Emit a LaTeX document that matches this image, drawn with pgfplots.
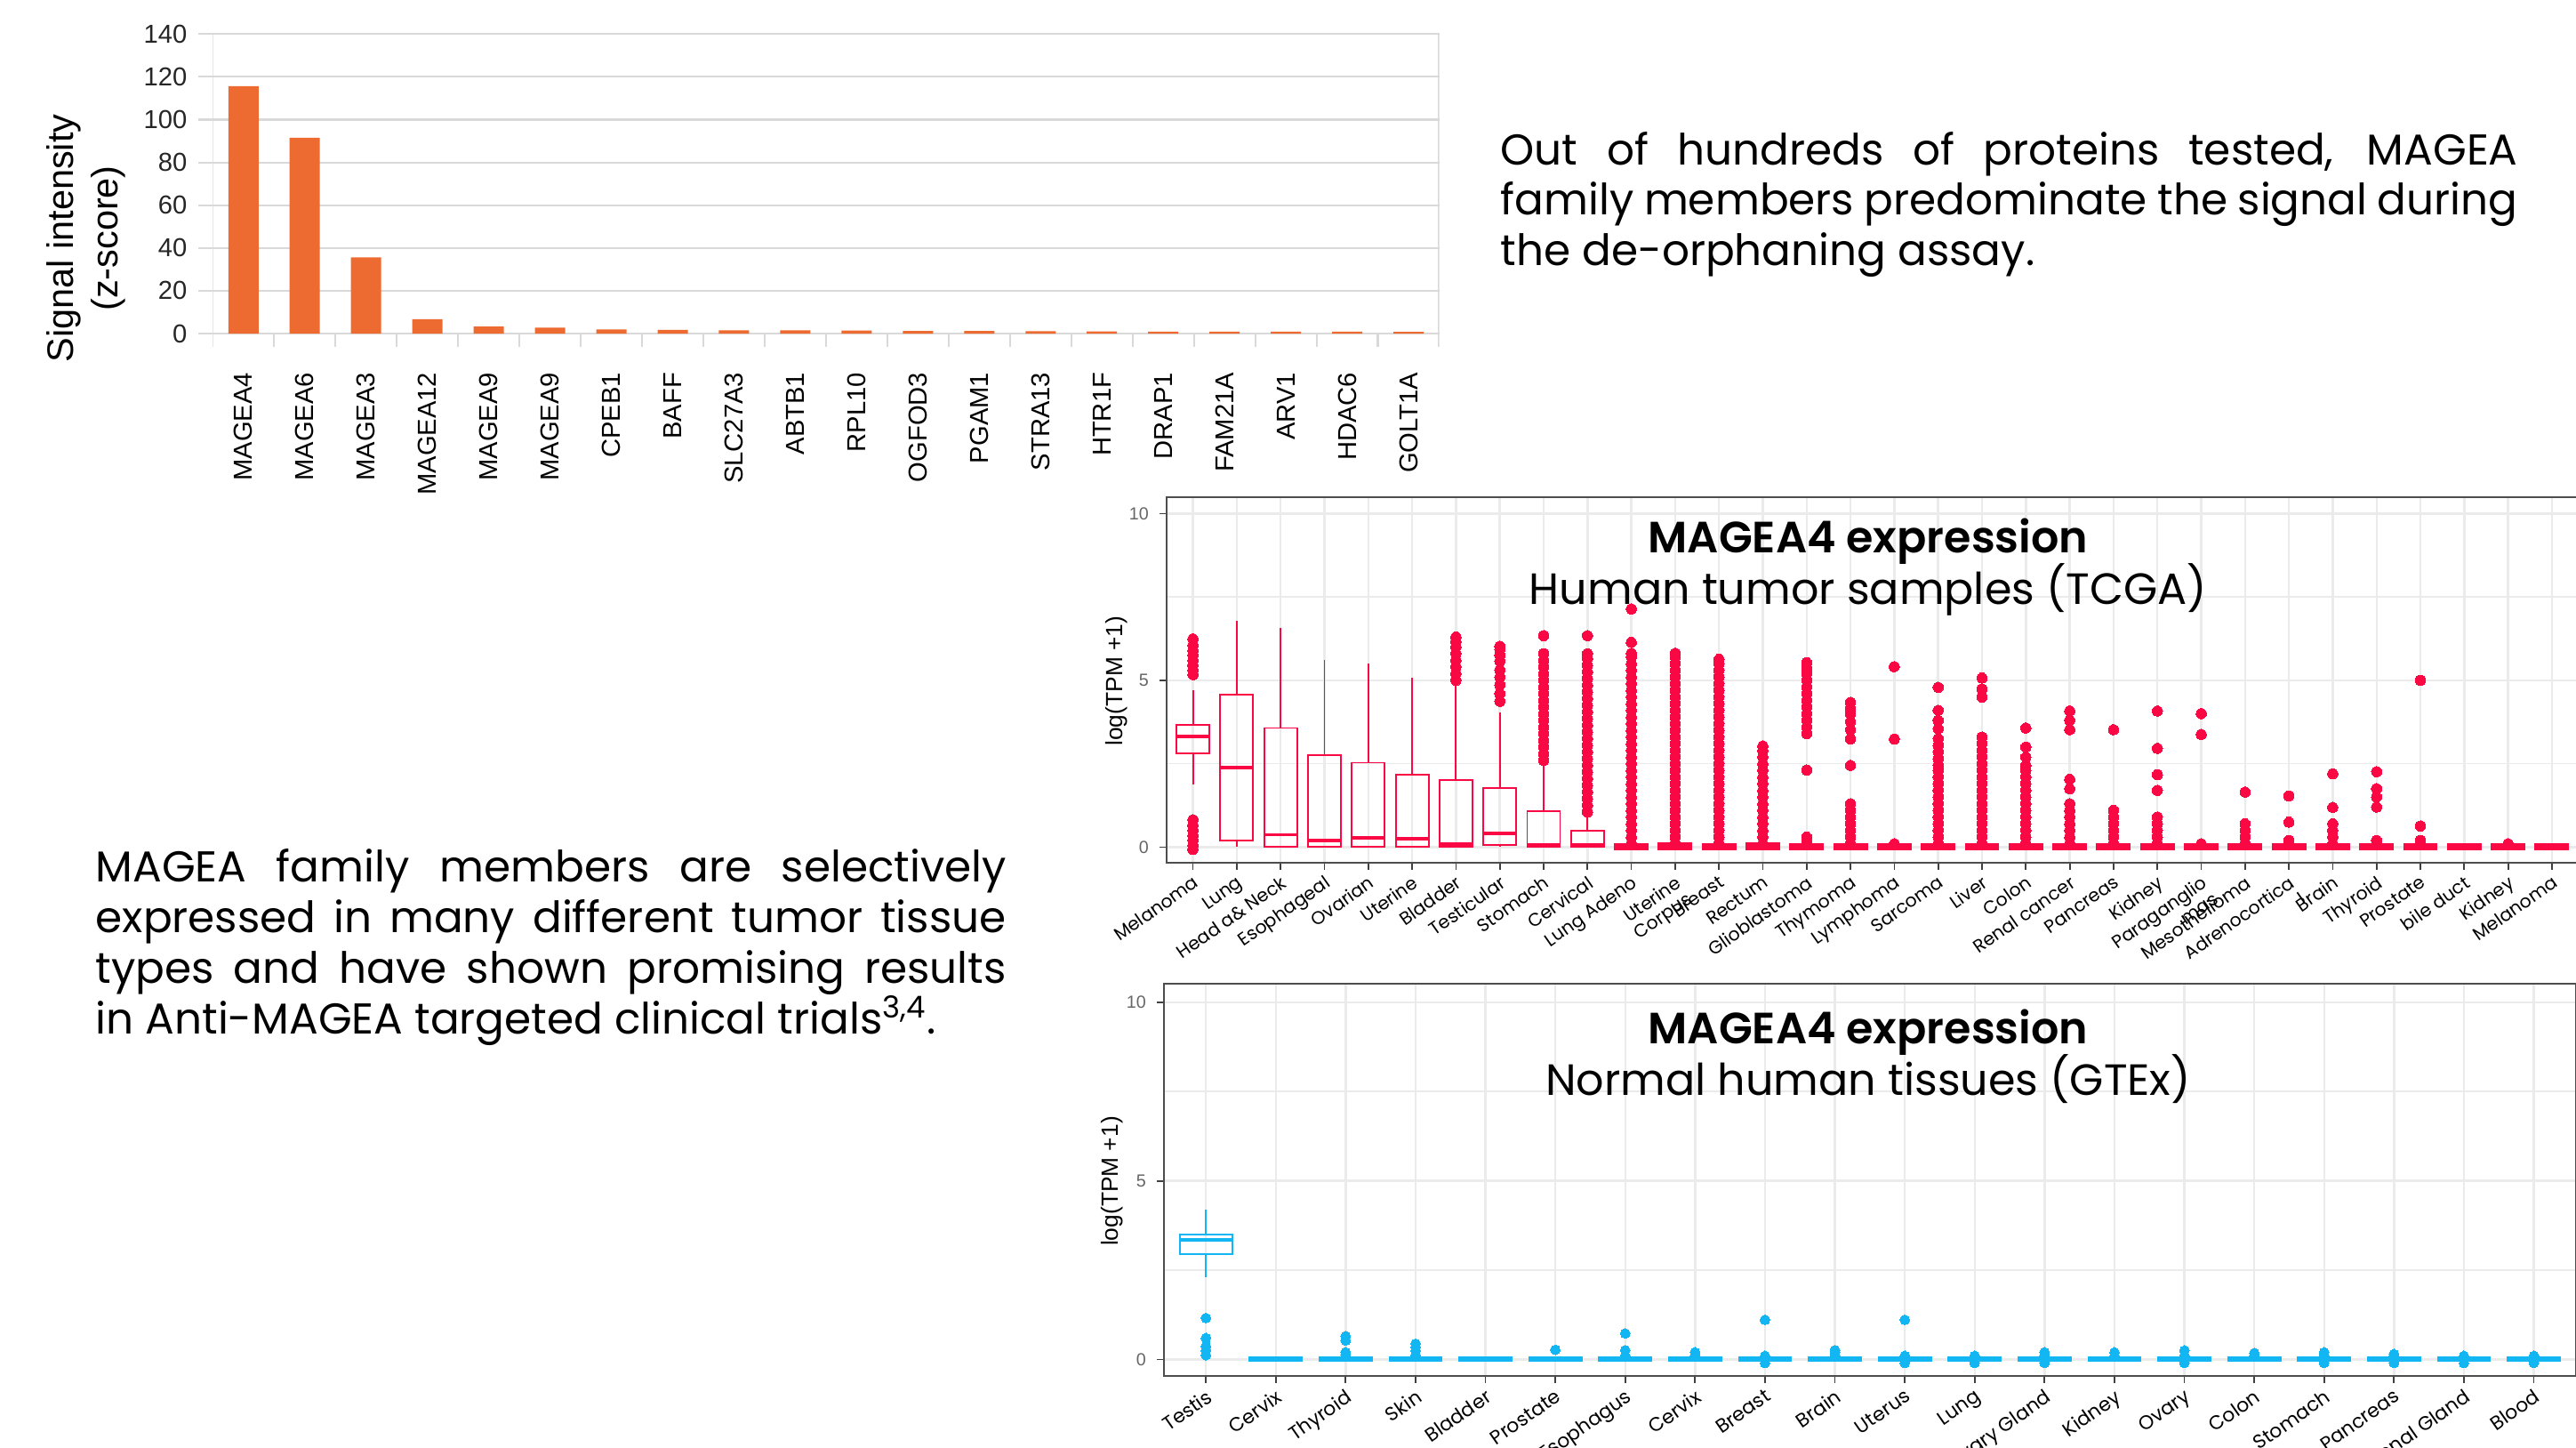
\documentclass[border=0pt]{standalone}
\usepackage{fontspec}
\usepackage{pgfplots}
\pgfplotsset{compat=1.18}
\usepgfplotslibrary{statistics}
\setmainfont{Poppins}
\newfontfamily\popmed{Poppins SemiBold}
\newfontfamily\arial{Liberation Sans}
\definecolor{barorange}{HTML}{ED6A30}
\definecolor{tcgared}{HTML}{FA0843}
\definecolor{gtexblue}{HTML}{12B6F2}
\definecolor{gridc}{HTML}{D9D9D9}
\definecolor{ggrid}{HTML}{EBEBEB}
\definecolor{gborder}{HTML}{4D4D4D}
\pgfplotsset{
  boxplot/draw direction=y,
  boxplot/box extend=0.75,
  boxplot/whisker extend=0,
  boxplot/every median/.style={line width=1.1pt},
  tb/.style={boxplot prepared={#1}, draw=tcgared, line width=0.55pt, mark=*, mark size=1.65pt, mark options={fill=tcgared, draw=tcgared, line width=0pt, solid}},
  tbf/.style={tb={#1}, fill=tcgared},
  gb/.style={boxplot prepared={#1}, draw=gtexblue, line width=0.55pt, mark=*, mark size=1.55pt, mark options={fill=gtexblue, draw=gtexblue, line width=0pt, solid}},
  gbf/.style={gb={#1}, fill=gtexblue},
  panel/.style={
    scale only axis, anchor=north west,
    xmin=0.4, ymin=-0.47,
    axis line style={gborder, line width=0.6pt},
    tick pos=left, tick align=outside,
    major tick length=2.2pt, minor tick length=0pt,
    tick style={black!75, line width=0.5pt},
    ytick={0,5,10}, minor ytick={2.5,7.5},
    xmajorgrids, ymajorgrids, yminorgrids,
    major grid style={ggrid, line width=0.7pt},
    minor grid style={ggrid, line width=0.45pt},
    yticklabel style={font=\arial\fontsize{5.6}{6}\selectfont, text=black!60},
    /pgf/number format/assume math mode=true,
  },
}
\begin{document}
\begin{tikzpicture}
\fill[white] (0,0) rectangle (28.97,-16.27);
\path[use as bounding box] (0,0) rectangle (28.97,-16.27);

% ---------------- bar chart ----------------
\begin{axis}[
  at={(2.393cm,-0.383cm)}, anchor=north west, scale only axis,
  width=13.792cm, height=3.517cm,
  xmin=0.5, xmax=20.5, ymin=-6.24, ymax=140,
  axis line style={draw=none},
  ytick={0,20,...,140}, ymajorgrids, major grid style={gridc, line width=0.6pt},
  tick pos=left, tick align=outside, major tick length=4.7pt,
  ytick style={gridc, line width=0.6pt},
  yticklabel style={font=\arial\fontsize{8.3}{9}\selectfont, text=black!85},
  xtick={1,...,20}, xtick style={draw=none},
  xticklabels={MAGEA4,MAGEA6,MAGEA3,MAGEA12,MAGEA9,MAGEA9,CPEB1,BAFF,SLC27A3,ABTB1,RPL10,OGFOD3,PGAM1,STRA13,HTR1F,DRAP1,FAM21A,ARV1,HDAC6,GOLT1A},
  xticklabel style={rotate=90, anchor=east, font=\arial\fontsize{8.3}{9}\selectfont},
  /pgf/number format/assume math mode=true,
]
\addplot[ybar, bar width=0.34cm, fill=barorange, draw=none] coordinates {
(1,115.7) (2,91.5) (3,35.6) (4,6.7) (5,3.3) (6,2.8) (7,1.9) (8,1.7) (9,1.5) (10,1.5)
(11,1.4) (12,1.2) (13,1.2) (14,1.1) (15,1.0) (16,0.9) (17,0.9) (18,0.9) (19,0.9) (20,0.8)};
\pgfplotsinvokeforeach{1.5,2.5,3.5,4.5,5.5,6.5,7.5,8.5,9.5,10.5,11.5,12.5,13.5,14.5,15.5,16.5,17.5,18.5,19.5}{
  \draw[gridc, line width=0.6pt] (axis cs:#1,0) -- (axis cs:#1,-6.24);}
\draw[gridc, line width=0.6pt] (axis cs:0.5,140) -- (axis cs:0.5,-6.24);
\draw[gridc, line width=0.6pt] (axis cs:20.5,140) -- (axis cs:20.5,-6.24);
\end{axis}
\node[rotate=90, align=center, font=\arial\fontsize{11.8}{14.2}\selectfont] at (0.967,-2.68) {Signal intensity\\(z-score)};

% ---------------- TCGA ----------------
\begin{axis}[panel,
  at={(13.12cm,-5.59cm)}, width=15.875cm, height=4.11cm,
  xmax=32.6, ymax=10.49,
  xtick={1,...,32},
  xticklabels={Melanoma,Lung,Head a\& Neck,Esophageal,Ovarian,Uterine,Bladder,Testicular,Stomach,Cervical,Lung Adeno,{Uterine\\Corpus},Breast,Rectum,Glioblastoma,Thymoma,Lymphoma,Sarcoma,Liver,Colon,Renal cancer,Pancreas,Kidney,{Paraganglio\\mas},Mesothelioma,{Adrenocortica\\l},Brain,Thyroid,Prostate,bile duct,Kidney,Melanoma},
  xticklabel style={rotate=35, anchor=north east, align=right, inner sep=1pt, font=\fontsize{5.8}{6.2}\selectfont},
]
\addplot[tb={draw position=1, lower whisker=1.88, lower quartile=2.82, median=3.31, upper quartile=3.66, upper whisker=4.70}] table[row sep=\\,y index=0] {d\\ 5.17\\ 5.3\\ 5.45\\ 5.6\\ 5.75\\ 5.9\\ 6.05\\ 6.24\\ -0.07\\ 0.05\\ 0.2\\ 0.35\\ 0.5\\ 0.65\\ 0.82\\};
\addplot[tb={draw position=2, lower whisker=0, lower quartile=0.2, median=2.39, upper quartile=4.57, upper whisker=6.78}] coordinates {};
\addplot[tb={draw position=3, lower whisker=0, lower quartile=0.02, median=0.37, upper quartile=3.57, upper whisker=6.56}] coordinates {};
\addplot[tb={draw position=4, lower whisker=0, lower quartile=0, median=0.19, upper quartile=2.75, upper whisker=5.6}] coordinates {};
\addplot[tb={draw position=5, lower whisker=0, lower quartile=0, median=0.28, upper quartile=2.53, upper whisker=5.5}] coordinates {};
\addplot[tb={draw position=6, lower whisker=0, lower quartile=0, median=0.26, upper quartile=2.18, upper whisker=5.07}] coordinates {};
\addplot[tb={draw position=7, lower whisker=0, lower quartile=0, median=0.1, upper quartile=2.02, upper whisker=4.91}] table[row sep=\\,y index=0] {d\\ 5.0\\ 5.2\\ 5.4\\ 5.6\\ 5.8\\ 6.0\\ 6.15\\ 6.3\\};
\addplot[tb={draw position=8, lower whisker=0, lower quartile=0.06, median=0.41, upper quartile=1.78, upper whisker=4.04}] table[row sep=\\,y index=0] {d\\ 4.37\\ 4.6\\ 4.86\\ 5.09\\ 5.31\\ 5.57\\ 5.75\\ 5.93\\ 6.02\\};
\addplot[tb={draw position=9, lower whisker=0, lower quartile=0, median=0.06, upper quartile=1.07, upper whisker=2.55}] table[row sep=\\,y index=0] {d\\ 2.6\\ 2.8\\ 3.0\\ 3.2\\ 3.4\\ 3.6\\ 3.8\\ 4.0\\ 4.2\\ 4.4\\ 4.6\\ 4.8\\ 5.0\\ 5.2\\ 5.4\\ 5.6\\ 5.8\\ 6.34\\};
\addplot[tb={draw position=10, lower whisker=0, lower quartile=0, median=0.06, upper quartile=0.5, upper whisker=0.95}] table[row sep=\\,y index=0] {d\\ 1.05\\ 1.25\\ 1.45\\ 1.65\\ 1.85\\ 2.05\\ 2.25\\ 2.45\\ 2.65\\ 2.85\\ 3.05\\ 3.25\\ 3.45\\ 3.65\\ 3.85\\ 4.05\\ 4.25\\ 4.45\\ 4.65\\ 4.85\\ 5.05\\ 5.25\\ 5.45\\ 5.65\\ 5.8\\ 6.34\\};
\addplot[tbf={draw position=11, lower whisker=-0.06, lower quartile=-0.06, median=0, upper quartile=0.1, upper whisker=0.1}] table[row sep=\\,y index=0] {d\\ 0.1\\ 0.3\\ 0.5\\ 0.7\\ 0.9\\ 1.1\\ 1.3\\ 1.5\\ 1.7\\ 1.9\\ 2.1\\ 2.3\\ 2.5\\ 2.7\\ 2.9\\ 3.1\\ 3.3\\ 3.5\\ 3.7\\ 3.9\\ 4.1\\ 4.3\\ 4.5\\ 4.7\\ 4.9\\ 5.1\\ 5.3\\ 5.5\\ 5.7\\ 5.81\\ 6.14\\ 7.14\\};
\addplot[tbf={draw position=12, lower whisker=-0.06, lower quartile=-0.06, median=0, upper quartile=0.12, upper whisker=0.12}] table[row sep=\\,y index=0] {d\\ 0.1\\ 0.3\\ 0.5\\ 0.7\\ 0.9\\ 1.1\\ 1.3\\ 1.5\\ 1.7\\ 1.9\\ 2.1\\ 2.3\\ 2.5\\ 2.7\\ 2.9\\ 3.1\\ 3.3\\ 3.5\\ 3.7\\ 3.9\\ 4.1\\ 4.3\\ 4.5\\ 4.7\\ 4.9\\ 5.1\\ 5.3\\ 5.5\\ 5.7\\ 5.81\\};
\addplot[tbf={draw position=13, lower whisker=-0.06, lower quartile=-0.06, median=0, upper quartile=0.1, upper whisker=0.1}] table[row sep=\\,y index=0] {d\\ 0.1\\ 0.3\\ 0.5\\ 0.7\\ 0.9\\ 1.1\\ 1.3\\ 1.5\\ 1.7\\ 1.9\\ 2.1\\ 2.3\\ 2.5\\ 2.7\\ 2.9\\ 3.1\\ 3.3\\ 3.5\\ 3.7\\ 3.9\\ 4.1\\ 4.3\\ 4.5\\ 4.7\\ 4.9\\ 5.1\\ 5.3\\ 5.5\\ 5.63\\};
\addplot[tbf={draw position=14, lower whisker=-0.06, lower quartile=-0.06, median=0, upper quartile=0.12, upper whisker=0.12}] table[row sep=\\,y index=0] {d\\ 0.1\\ 0.3\\ 0.5\\ 0.7\\ 0.9\\ 1.1\\ 1.3\\ 1.5\\ 1.7\\ 1.9\\ 2.1\\ 2.3\\ 2.5\\ 2.7\\ 2.9\\ 3.03\\};
\addplot[tbf={draw position=15, lower whisker=-0.06, lower quartile=-0.06, median=0, upper quartile=0.08, upper whisker=0.08}] table[row sep=\\,y index=0] {d\\ 0.15\\ 0.3\\ 2.31\\ 3.4\\ 3.6\\ 3.8\\ 4.0\\ 4.2\\ 4.4\\ 4.6\\ 4.8\\ 5.0\\ 5.2\\ 5.35\\ 5.53\\};
\addplot[tbf={draw position=16, lower whisker=-0.06, lower quartile=-0.06, median=0, upper quartile=0.08, upper whisker=0.08}] table[row sep=\\,y index=0] {d\\ 0.1\\ 0.3\\ 0.5\\ 0.7\\ 0.9\\ 1.1\\ 1.3\\ 2.45\\ 3.24\\ 3.52\\ 3.76\\ 3.99\\ 4.15\\ 4.34\\};
\addplot[tbf={draw position=17, lower whisker=-0.06, lower quartile=-0.06, median=0, upper quartile=0.08, upper whisker=0.08}] table[row sep=\\,y index=0] {d\\ 0.1\\ 3.24\\ 5.41\\};
\addplot[tbf={draw position=18, lower whisker=-0.06, lower quartile=-0.06, median=0, upper quartile=0.08, upper whisker=0.08}] table[row sep=\\,y index=0] {d\\ 0.1\\ 0.3\\ 0.5\\ 0.7\\ 0.9\\ 1.1\\ 1.3\\ 1.5\\ 1.7\\ 1.9\\ 2.1\\ 2.3\\ 2.45\\ 2.65\\ 2.85\\ 3.05\\ 3.25\\ 3.55\\ 3.8\\ 4.1\\ 4.79\\};
\addplot[tbf={draw position=19, lower whisker=-0.06, lower quartile=-0.06, median=0, upper quartile=0.08, upper whisker=0.08}] table[row sep=\\,y index=0] {d\\ 0.1\\ 0.3\\ 0.5\\ 0.7\\ 0.9\\ 1.1\\ 1.3\\ 1.5\\ 1.7\\ 1.9\\ 2.1\\ 2.3\\ 2.5\\ 2.7\\ 2.9\\ 3.1\\ 3.3\\ 4.5\\ 4.74\\ 5.07\\};
\addplot[tbf={draw position=20, lower whisker=-0.06, lower quartile=-0.06, median=0, upper quartile=0.08, upper whisker=0.08}] table[row sep=\\,y index=0] {d\\ 0.1\\ 0.3\\ 0.5\\ 0.7\\ 0.9\\ 1.1\\ 1.3\\ 1.5\\ 1.7\\ 1.9\\ 2.1\\ 2.3\\ 2.45\\ 2.7\\ 3.0\\ 3.57\\};
\addplot[tbf={draw position=21, lower whisker=-0.06, lower quartile=-0.06, median=0, upper quartile=0.08, upper whisker=0.08}] table[row sep=\\,y index=0] {d\\ 0.1\\ 0.3\\ 0.5\\ 0.7\\ 0.9\\ 1.1\\ 1.3\\ 1.75\\ 2.03\\ 3.52\\ 3.8\\ 4.08\\};
\addplot[tbf={draw position=22, lower whisker=-0.06, lower quartile=-0.06, median=0, upper quartile=0.08, upper whisker=0.08}] table[row sep=\\,y index=0] {d\\ 0.1\\ 0.3\\ 0.5\\ 0.7\\ 0.9\\ 1.1\\ 3.52\\};
\addplot[tbf={draw position=23, lower whisker=-0.06, lower quartile=-0.06, median=0, upper quartile=0.08, upper whisker=0.08}] table[row sep=\\,y index=0] {d\\ 0.1\\ 0.3\\ 0.5\\ 0.7\\ 0.9\\ 1.7\\ 2.17\\ 2.96\\ 4.08\\};
\addplot[tbf={draw position=24, lower whisker=-0.06, lower quartile=-0.06, median=0, upper quartile=0.08, upper whisker=0.08}] table[row sep=\\,y index=0] {d\\ 0.1\\ 3.38\\ 4.0\\};
\addplot[tbf={draw position=25, lower whisker=-0.06, lower quartile=-0.06, median=0, upper quartile=0.08, upper whisker=0.08}] table[row sep=\\,y index=0] {d\\ 0.1\\ 0.3\\ 0.5\\ 0.7\\ 1.65\\};
\addplot[tbf={draw position=26, lower whisker=-0.06, lower quartile=-0.06, median=0, upper quartile=0.08, upper whisker=0.08}] table[row sep=\\,y index=0] {d\\ 0.1\\ 0.2\\ 0.75\\ 1.53\\};
\addplot[tbf={draw position=27, lower whisker=-0.06, lower quartile=-0.06, median=0, upper quartile=0.08, upper whisker=0.08}] table[row sep=\\,y index=0] {d\\ 0.1\\ 0.3\\ 0.5\\ 0.7\\ 1.19\\ 2.2\\};
\addplot[tbf={draw position=28, lower whisker=-0.06, lower quartile=-0.06, median=0, upper quartile=0.08, upper whisker=0.08}] table[row sep=\\,y index=0] {d\\ 0.1\\ 0.2\\ 1.2\\ 1.5\\ 1.75\\ 2.26\\};
\addplot[tbf={draw position=29, lower whisker=-0.06, lower quartile=-0.06, median=0, upper quartile=0.08, upper whisker=0.08}] table[row sep=\\,y index=0] {d\\ 0.1\\ 0.2\\ 0.63\\ 5.0\\};
\addplot[tbf={draw position=30, lower whisker=-0.06, lower quartile=-0.06, median=0, upper quartile=0.08, upper whisker=0.08}] coordinates {};
\addplot[tbf={draw position=31, lower whisker=-0.06, lower quartile=-0.06, median=0, upper quartile=0.08, upper whisker=0.08}] table[row sep=\\,y index=0] {d\\ 0.1\\};
\addplot[tbf={draw position=32, lower whisker=-0.06, lower quartile=-0.06, median=0, upper quartile=0.08, upper whisker=0.08}] coordinates {};
\end{axis}
\node[rotate=90, font=\arial\fontsize{7.5}{8}\selectfont] at (12.559,-7.657) {log(TPM +1)};
\node[anchor=base, font=\popmed\fontsize{14}{16}\selectfont] at (21.01,-6.219) {MAGEA4 expression};
\node[anchor=base, font=\fontsize{14}{16}\selectfont] at (21.01,-6.798) {Human tumor samples (TCGA)};

% ---------------- GTEx ----------------
\begin{axis}[panel,
  at={(13.09cm,-11.064cm)}, width=15.877cm, height=4.409cm,
  xmax=20.6, ymax=10.51,
  xtick={1,...,20},
  xticklabels={Testis,Cervix,Thyroid,Skin,Bladder,Prostate,Esophagus,Cervix,Breast,Brain,Uterus,Lung,Salivary Gland,Kidney,Ovary,Colon,Stomach,Pancreas,Adrenal Gland,Blood},
  xticklabel style={rotate=35, anchor=north east, inner sep=1pt, font=\fontsize{6.2}{6.6}\selectfont},
]
\addplot[gb={draw position=1, lower whisker=2.30, lower quartile=2.96, median=3.35, upper quartile=3.49, upper whisker=4.19}] table[row sep=\\,y index=0] {d\\ 1.16\\ 0.6\\ 0.37\\ 0.25\\ 0.12\\};
\addplot[gbf={draw position=2, lower whisker=-0.05, lower quartile=-0.05, median=0, upper quartile=0.07, upper whisker=0.07}] coordinates {};
\addplot[gbf={draw position=3, lower whisker=-0.05, lower quartile=-0.05, median=0, upper quartile=0.07, upper whisker=0.07}] table[row sep=\\,y index=0] {d\\ 0.12\\ 0.2\\ 0.53\\ 0.65\\};
\addplot[gbf={draw position=4, lower whisker=-0.05, lower quartile=-0.05, median=0, upper quartile=0.07, upper whisker=0.07}] table[row sep=\\,y index=0] {d\\ 0.12\\ 0.25\\ 0.35\\ 0.44\\};
\addplot[gbf={draw position=5, lower whisker=-0.05, lower quartile=-0.05, median=0, upper quartile=0.07, upper whisker=0.07}] coordinates {};
\addplot[gbf={draw position=6, lower whisker=-0.05, lower quartile=-0.05, median=0, upper quartile=0.07, upper whisker=0.07}] table[row sep=\\,y index=0] {d\\ 0.27\\};
\addplot[gbf={draw position=7, lower whisker=-0.05, lower quartile=-0.05, median=0, upper quartile=0.07, upper whisker=0.07}] table[row sep=\\,y index=0] {d\\ 0.1\\ 0.26\\ 0.73\\};
\addplot[gbf={draw position=8, lower whisker=-0.05, lower quartile=-0.05, median=0, upper quartile=0.07, upper whisker=0.07}] table[row sep=\\,y index=0] {d\\ 0.1\\ 0.2\\};
\addplot[gbf={draw position=9, lower whisker=-0.05, lower quartile=-0.05, median=0, upper quartile=0.07, upper whisker=0.07}] table[row sep=\\,y index=0] {d\\ -0.1\\ 0.1\\ 1.11\\};
\addplot[gbf={draw position=10, lower whisker=-0.05, lower quartile=-0.05, median=0, upper quartile=0.07, upper whisker=0.07}] table[row sep=\\,y index=0] {d\\ 0.1\\ 0.2\\ 0.26\\};
\addplot[gbf={draw position=11, lower whisker=-0.05, lower quartile=-0.05, median=0, upper quartile=0.07, upper whisker=0.07}] table[row sep=\\,y index=0] {d\\ -0.1\\ 0.1\\ 1.11\\};
\addplot[gbf={draw position=12, lower whisker=-0.05, lower quartile=-0.05, median=0, upper quartile=0.07, upper whisker=0.07}] table[row sep=\\,y index=0] {d\\ -0.1\\ 0.1\\};
\addplot[gbf={draw position=13, lower whisker=-0.05, lower quartile=-0.05, median=0, upper quartile=0.07, upper whisker=0.07}] table[row sep=\\,y index=0] {d\\ -0.1\\ 0.1\\ 0.2\\};
\addplot[gbf={draw position=14, lower whisker=-0.05, lower quartile=-0.05, median=0, upper quartile=0.07, upper whisker=0.07}] table[row sep=\\,y index=0] {d\\ 0.1\\ 0.2\\};
\addplot[gbf={draw position=15, lower whisker=-0.05, lower quartile=-0.05, median=0, upper quartile=0.07, upper whisker=0.07}] table[row sep=\\,y index=0] {d\\ -0.1\\ 0.1\\ 0.25\\};
\addplot[gbf={draw position=16, lower whisker=-0.05, lower quartile=-0.05, median=0, upper quartile=0.07, upper whisker=0.07}] table[row sep=\\,y index=0] {d\\ 0.1\\ 0.18\\};
\addplot[gbf={draw position=17, lower whisker=-0.05, lower quartile=-0.05, median=0, upper quartile=0.07, upper whisker=0.07}] table[row sep=\\,y index=0] {d\\ -0.1\\ 0.1\\ 0.2\\};
\addplot[gbf={draw position=18, lower whisker=-0.05, lower quartile=-0.05, median=0, upper quartile=0.07, upper whisker=0.07}] table[row sep=\\,y index=0] {d\\ -0.1\\ 0.1\\ 0.15\\};
\addplot[gbf={draw position=19, lower whisker=-0.05, lower quartile=-0.05, median=0, upper quartile=0.07, upper whisker=0.07}] table[row sep=\\,y index=0] {d\\ -0.1\\ 0.1\\};
\addplot[gbf={draw position=20, lower whisker=-0.05, lower quartile=-0.05, median=0, upper quartile=0.07, upper whisker=0.07}] table[row sep=\\,y index=0] {d\\ -0.1\\ 0.1\\};
\end{axis}
\node[rotate=90, font=\arial\fontsize{7.5}{8}\selectfont] at (12.505,-13.28) {log(TPM +1)};
\node[anchor=base, font=\popmed\fontsize{14}{16}\selectfont] at (21.01,-11.739) {MAGEA4 expression};
\node[anchor=base, font=\fontsize{14}{16}\selectfont] at (21.01,-12.311) {Normal human tissues (GTEx)};

% ---------------- texts ----------------
\node[anchor=base west, inner sep=0pt] at (16.87,-1.85) {\parbox[t]{11.44cm}{\fontsize{13.8}{16.2}\selectfont\hyphenpenalty=10000\exhyphenpenalty=10000
Out of hundreds of proteins tested, MAGEA\linebreak family members predominate the signal during\linebreak the de-orphaning assay.}};
\node[anchor=base west, inner sep=0pt] at (1.07,-9.917) {\parbox[t]{10.24cm}{\fontsize{13.8}{16.2}\selectfont\hyphenpenalty=10000\exhyphenpenalty=10000
MAGEA family members are selectively\linebreak expressed in many different tumor tissue\linebreak types and have shown promising results\linebreak in Anti-MAGEA targeted clinical trials\textsuperscript{3,4}.}};
\end{tikzpicture}
\end{document}
